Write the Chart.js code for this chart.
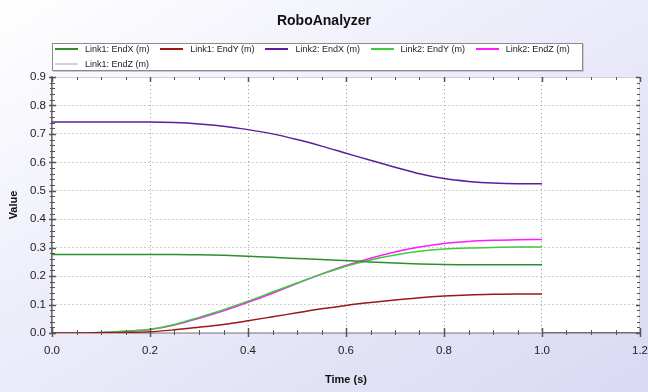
<!DOCTYPE html>
<html>
<head>
<meta charset="utf-8">
<script src="https://cdn.jsdelivr.net/npm/chart.js@4.4.0/dist/chart.umd.min.js"></script>
<style>
  html, body { margin: 0; padding: 0; }
  body {
    width: 648px; height: 392px; overflow: hidden; position: relative;
    background: linear-gradient(to bottom right, #ffffff 0%, #ececfa 45%, #d9d9f4 100%);
    font-family: "Liberation Sans", Arial, sans-serif;
  }
  #wrap { position: absolute; left: 0; top: 0; width: 648px; height: 392px; }
  #legenda {
    position: absolute; left: 52px; top: 43px; width: 529px; height: 26px;
    background: #fff; border: 1px solid #8a8a8a; box-shadow: 1px 1px 0 #c8c8d8;
  }
  .voce { position: absolute; height: 12px; line-height: 12px; font-size: 9px; color: #222; white-space: nowrap; }
  .voce .linea { position: absolute; left: 0; top: 5px; width: 23px; height: 2px; }
  .voce .testo { position: absolute; left: 30px; top: 0; }
</style>
</head>
<body>
<div id="wrap"><canvas id="grafico" width="648" height="392"></canvas></div>
<div id="legenda"></div>

<script>
// dati
var tempi = [0, 0.05, 0.1, 0.15, 0.2, 0.25, 0.3, 0.35, 0.4, 0.45, 0.5, 0.55, 0.6, 0.65, 0.7, 0.75, 0.8, 0.85, 0.9, 0.95, 1.0];
var link1EndX = [0.276, 0.276, 0.276, 0.276, 0.276, 0.276, 0.275, 0.273, 0.270, 0.266, 0.262, 0.258, 0.255, 0.250, 0.246, 0.243, 0.241, 0.240, 0.240, 0.240, 0.240];
var link1EndY = [0, 0, 0.001, 0.002, 0.004, 0.011, 0.020, 0.030, 0.043, 0.057, 0.071, 0.085, 0.097, 0.107, 0.116, 0.124, 0.130, 0.134, 0.136, 0.137, 0.137];
var link2EndX = [0.742, 0.742, 0.742, 0.742, 0.742, 0.740, 0.735, 0.727, 0.715, 0.700, 0.680, 0.657, 0.632, 0.607, 0.583, 0.560, 0.543, 0.533, 0.527, 0.525, 0.525];
var link2EndY = [0, 0, 0.002, 0.006, 0.013, 0.030, 0.055, 0.082, 0.112, 0.144, 0.176, 0.207, 0.235, 0.257, 0.274, 0.287, 0.295, 0.299, 0.301, 0.302, 0.302];
var link2EndZ = [0, 0, 0.002, 0.006, 0.012, 0.028, 0.052, 0.078, 0.108, 0.140, 0.174, 0.207, 0.237, 0.263, 0.285, 0.302, 0.315, 0.322, 0.326, 0.328, 0.329];
var link1EndZ = [0, 0, 0, 0, 0, 0, 0, 0, 0, 0, 0, 0, 0, 0, 0, 0, 0, 0, 0, 0, 0];

var nomi = ['Link1: EndX (m)', 'Link1: EndY (m)', 'Link2: EndX (m)', 'Link2: EndY (m)', 'Link2: EndZ (m)', 'Link1: EndZ (m)'];
var colori = ['#2f8f2f', '#9e1616', '#5a1e9e', '#3ccc3c', '#ff1aff', '#d4d4d4'];
var serie = [link1EndX, link1EndY, link2EndX, link2EndY, link2EndZ, link1EndZ];

var FONT = '"Liberation Sans", Arial, sans-serif';

function punti(valori) {
    return valori.map(function (v, i) { return {x: tempi[i], y: v}; });
}

function isMaggiore(v, passo) {
    var r = v / passo;
    return Math.abs(r - Math.round(r)) < 1e-6;
}

// sfondo bianco dell'area del grafico
var sfondoArea = {
    id: 'sfondoArea',
    beforeDraw: function (chart) {
        var a = chart.chartArea, ctx = chart.ctx;
        ctx.save();
        ctx.fillStyle = '#ffffff';
        ctx.fillRect(a.left, a.top, a.right - a.left, a.bottom - a.top);
        ctx.strokeStyle = '#d0d0d8';
        ctx.lineWidth = 1;
        ctx.strokeRect(a.left + 0.5, a.top + 0.5, a.right - a.left - 1, a.bottom - a.top - 1);
        ctx.restore();
    }
};

// tacche che attraversano gli assi (come nel grafico originale)
var tacche = {
    id: 'tacche',
    afterDraw: function (chart) {
        var a = chart.chartArea, ctx = chart.ctx;
        var sx = chart.scales.x, sy = chart.scales.y;
        ctx.save();
        ctx.strokeStyle = '#555';
        sx.ticks.forEach(function (t) {
            var px = Math.round(sx.getPixelForValue(t.value)) + 0.5;
            var big = isMaggiore(t.value, 0.2);
            ctx.lineWidth = big ? 1.5 : 1;
            var l = big ? 5 : 3;
            ctx.beginPath();
            ctx.moveTo(px, a.bottom - l); ctx.lineTo(px, a.bottom + l - 1);
            ctx.moveTo(px, a.top); ctx.lineTo(px, a.top + l);
            ctx.stroke();
        });
        sy.ticks.forEach(function (t) {
            var py = Math.round(sy.getPixelForValue(t.value)) + 0.5;
            var big = isMaggiore(t.value, 0.1);
            ctx.lineWidth = big ? 1.5 : 1;
            var l = big ? 4 : 3;
            ctx.beginPath();
            ctx.moveTo(a.left - l + 1, py); ctx.lineTo(a.left + l, py);
            ctx.moveTo(a.right - l, py); ctx.lineTo(a.right, py);
            ctx.stroke();
        });
        ctx.restore();
    }
};

var datasets = serie.map(function (s, i) {
    return {
        label: nomi[i],
        data: punti(s),
        borderColor: colori[i],
        backgroundColor: colori[i],
        borderWidth: 1.5,
        pointRadius: 0,
        cubicInterpolationMode: 'monotone',
        order: i === 5 ? 10 : i
    };
});

var ctx = document.getElementById('grafico');
var chart = new Chart(ctx, {
    type: 'line',
    data: { datasets: datasets },
    plugins: [sfondoArea, tacche],
    options: {
        responsive: false,
        animation: false,
        devicePixelRatio: 1,
        layout: { padding: { left: 0, right: 0, top: 0, bottom: 0 } },
        plugins: {
            legend: { display: false },
            tooltip: { enabled: false },
            title: {
                display: true,
                text: 'RoboAnalyzer',
                color: '#111',
                font: { family: FONT, size: 14, weight: 'bold' },
                padding: { top: 12.6, bottom: 47.6 }
            }
        },
        scales: {
            x: {
                type: 'linear',
                min: 0, max: 1.2,
                afterFit: function (scale) {
                    scale.height = 59;
                    scale.paddingLeft = 0;
                    scale.paddingRight = 8;
                },
                ticks: {
                    stepSize: 0.05,
                    autoSkip: false,
                    maxRotation: 0,
                    padding: 11,
                    color: '#222',
                    font: { family: FONT, size: 11.5 },
                    callback: function (v) { return isMaggiore(v, 0.2) ? v.toFixed(1) : ''; }
                },
                grid: {
                    drawTicks: false,
                    color: function (c) {
                        if (!c.tick) return 'transparent';
                        var v = c.tick.value;
                        return (isMaggiore(v, 0.2) && v > 0 && v < 1.2) ? '#9a9a9a' : 'transparent';
                    },
                    lineWidth: 1
                },
                border: { display: true, color: '#6e6e6e', width: 1.5, dash: [1, 3] },
                title: {
                    display: true,
                    text: 'Time (s)',
                    color: '#111',
                    font: { family: FONT, size: 11, weight: 'bold' },
                    padding: { top: 0, bottom: 5.4 }
                }
            },
            y: {
                type: 'linear',
                min: 0, max: 0.9,
                afterFit: function (scale) { scale.width = 52; },
                ticks: {
                    stepSize: 0.02,
                    autoSkip: false,
                    padding: 6,
                    color: '#222',
                    font: { family: FONT, size: 11.5 },
                    callback: function (v) { return isMaggiore(v, 0.1) ? v.toFixed(1) : ''; }
                },
                grid: {
                    drawTicks: false,
                    color: function (c) {
                        if (!c.tick) return 'transparent';
                        var v = c.tick.value;
                        return (isMaggiore(v, 0.1) && v > 0.001 && v < 0.899) ? '#9a9a9a' : 'transparent';
                    },
                    lineWidth: 1
                },
                border: { display: true, color: '#6e6e6e', width: 1.5, dash: [1, 3] },
                title: {
                    display: true,
                    text: 'Value',
                    color: '#111',
                    font: { family: FONT, size: 11, weight: 'bold' },
                    padding: { top: 7.4, bottom: 0 }
                }
            }
        }
    }
});

// legenda HTML costruita dai dataset
var legenda = document.getElementById('legenda');
chart.data.datasets.forEach(function (d, i) {
    var riga = i < 5 ? 0 : 1;
    var col = i < 5 ? i : 0;
    var voce = document.createElement('div');
    voce.className = 'voce';
    voce.style.left = (2 + col * 105.2) + 'px';
    voce.style.top = (-1 + riga * 14.8) + 'px';
    var linea = document.createElement('span');
    linea.className = 'linea';
    linea.style.background = d.borderColor;
    var testo = document.createElement('span');
    testo.className = 'testo';
    testo.textContent = d.label;
    voce.appendChild(linea);
    voce.appendChild(testo);
    legenda.appendChild(voce);
});
</script>
</body>
</html>
